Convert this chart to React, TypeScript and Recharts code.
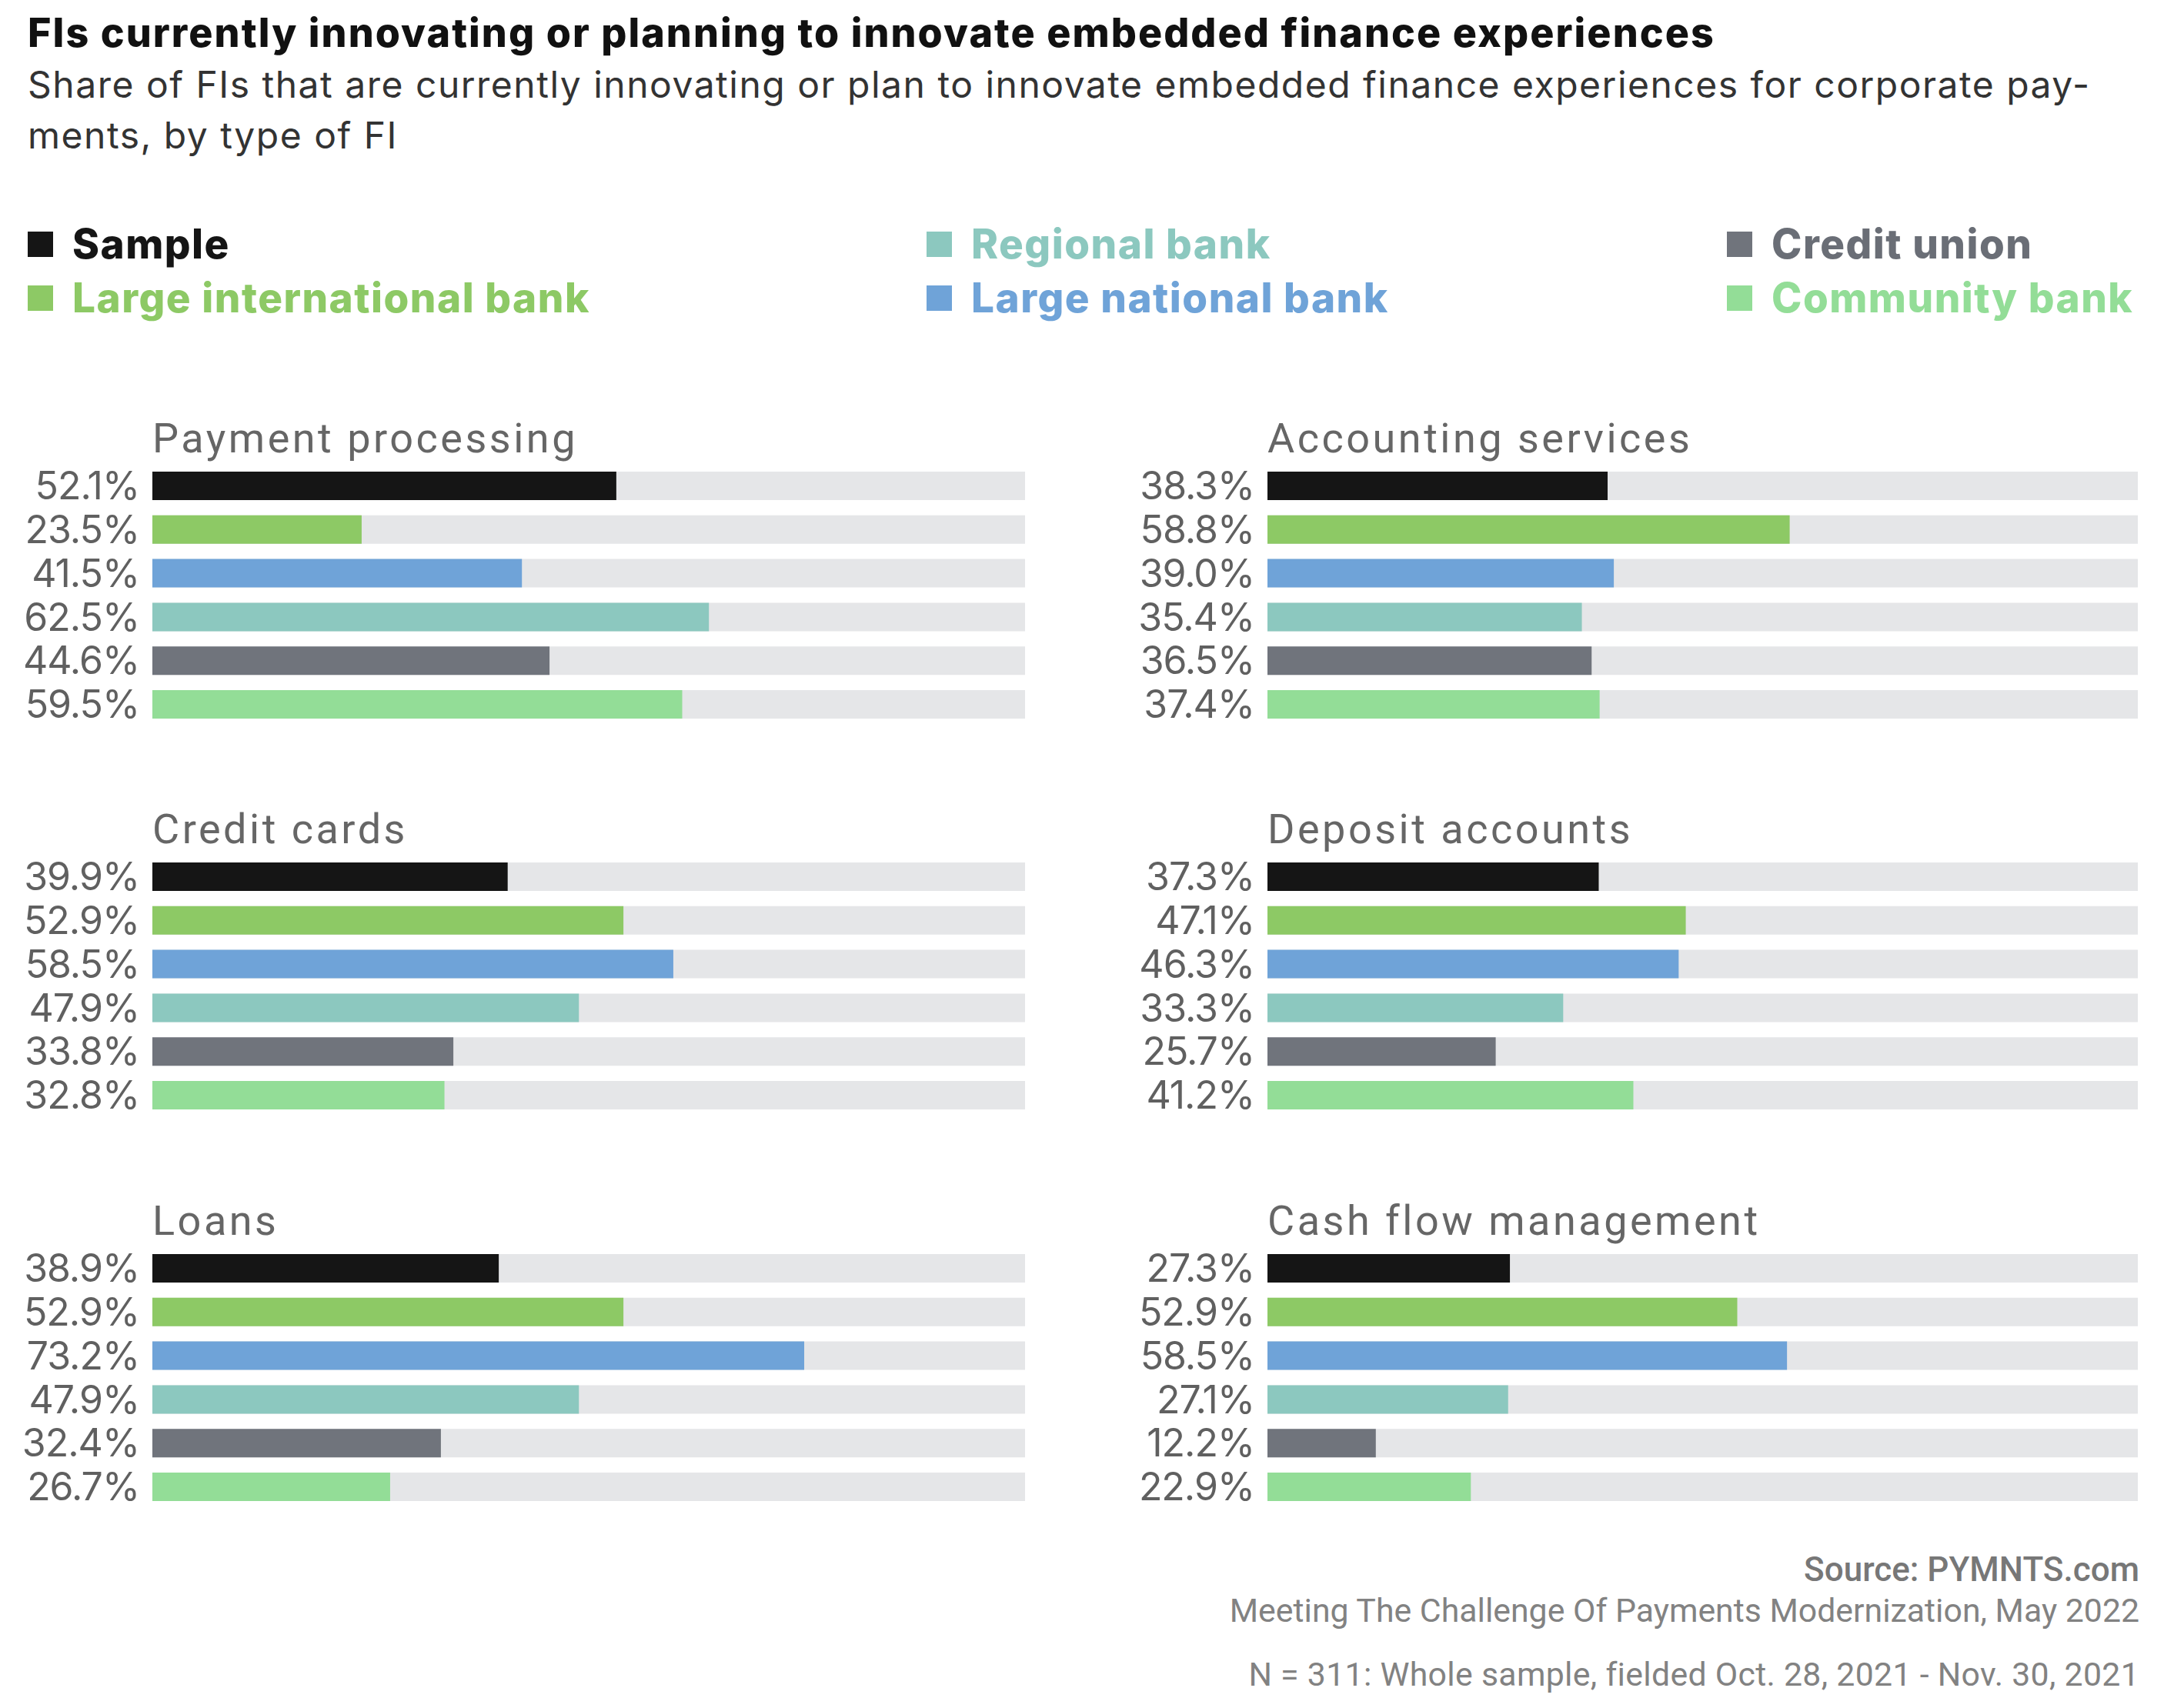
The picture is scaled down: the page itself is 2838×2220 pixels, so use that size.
import React from 'react';
import { BarChart, Bar, XAxis, YAxis, Cell } from 'recharts';

// FI types, in the order bars are drawn inside each panel
const fiTypes = ['Sample', 'Large international bank', 'Large national bank', 'Regional bank', 'Credit union', 'Community bank'];
const fiColors = ['#151515', '#8dc965', '#6fa3d8', '#8cc8bf', '#70747c', '#93dd97'];
const legendTextColors = ['#151515', '#8dc965', '#6fa3d8', '#8cc8bf', '#6a6e76', '#93dd97'];

// share of FIs (%) per use case
const paymentProcessing = [52.1, 23.5, 41.5, 62.5, 44.6, 59.5];
const accountingServices = [38.3, 58.8, 39.0, 35.4, 36.5, 37.4];
const creditCards = [39.9, 52.9, 58.5, 47.9, 33.8, 32.8];
const depositAccounts = [37.3, 47.1, 46.3, 33.3, 25.7, 41.2];
const loans = [38.9, 52.9, 73.2, 47.9, 32.4, 26.7];
const cashFlowManagement = [27.3, 52.9, 58.5, 27.1, 12.2, 22.9];

const panels = [
  { title: 'Payment processing', values: paymentProcessing },
  { title: 'Accounting services', values: accountingServices },
  { title: 'Credit cards', values: creditCards },
  { title: 'Deposit accounts', values: depositAccounts },
  { title: 'Loans', values: loans },
  { title: 'Cash flow management', values: cashFlowManagement },
];

// legend grid: row 1 then row 2, three columns
const legendRows = [[0, 3, 4], [1, 2, 5]];

const ROW_H = 56.8;
const PAD = 14; // room above/below so the tick text isn't clipped by the svg
const CHART_H = ROW_H * 6 + PAD * 2;
const panelTops = [603, 1111, 1620];
const colLefts = [0, 1449];
const chartWidths = [1332, 1329];

interface PanelProps {
  title: string;
  values: number[];
  left: number;
  top: number;
  width: number;
}

const Panel: React.FC<PanelProps> = ({ title, values, left, top, width }) => {
  const data = fiTypes.map((fi, i) => ({ fi, value: values[i] }));
  return (
    <>
      <div
        style={{
          position: 'absolute',
          left: left + 198,
          top: top - 33 - 35,
          fontFamily: 'Roboto',
          fontSize: 54,
          lineHeight: '70px',
          letterSpacing: 3.5,
          color: '#666',
          whiteSpace: 'nowrap',
        }}
      >
        {title}
      </div>
      <div style={{ position: 'absolute', left, top: top - PAD }}>
        <BarChart
          width={width}
          height={CHART_H}
          data={data}
          layout="vertical"
          margin={{ top: PAD, right: 0, bottom: PAD, left: 0 }}
        >
          <XAxis type="number" domain={[0, 98]} hide />
          <YAxis
            type="category"
            dataKey="fi"
            width={198}
            axisLine={false}
            tickLine={false}
            tickSize={0}
            tickMargin={17}
            interval={0}
            tickFormatter={(_v: string, i: number) => `${values[i].toFixed(1)}%`}
            tick={{ fontSize: 50, fill: '#606060', fontFamily: 'Inter', letterSpacing: -1 }}
          />
          <Bar dataKey="value" barSize={37} background={{ fill: '#e5e6e8' }} isAnimationActive={false}>
            {data.map((d, i) => (
              <Cell key={d.fi} fill={fiColors[i]} />
            ))}
          </Bar>
        </BarChart>
      </div>
    </>
  );
};

const App: React.FC = () => {
  return (
    <div
      style={{
        position: 'absolute',
        left: 0,
        top: 0,
        width: 2838,
        height: 2220,
        background: '#fff',
        overflow: 'hidden',
      }}
    >
      <div
        style={{
          position: 'absolute',
          left: 36,
          top: 11,
          fontFamily: 'Inter',
          fontWeight: 800,
          fontSize: 52,
          letterSpacing: 2.05,
          lineHeight: '64px',
          color: '#111',
          whiteSpace: 'nowrap',
        }}
      >
        FIs currently innovating or planning to innovate embedded finance experiences
      </div>
      <div
        style={{
          position: 'absolute',
          left: 36,
          top: 77,
          fontFamily: 'Inter',
          fontSize: 48,
          letterSpacing: 1.5,
          lineHeight: '66px',
          color: '#333',
          whiteSpace: 'nowrap',
        }}
      >
        Share of FIs that are currently innovating or plan to innovate embedded finance experiences for corporate pay-
        <br />
        ments, by type of FI
      </div>

      {legendRows.map((row, r) =>
        row.map((idx, c) => (
          <div
            key={fiTypes[idx]}
            style={{
              position: 'absolute',
              left: [36, 1204, 2244][c],
              top: [317, 387][r] - 30,
              height: 60,
              display: 'flex',
              alignItems: 'center',
              whiteSpace: 'nowrap',
            }}
          >
            <div style={{ width: 33, height: 33, background: fiColors[idx], marginRight: 25 }} />
            <span
              style={{
                fontFamily: 'Inter',
                fontWeight: 800,
                fontSize: 53,
                letterSpacing: 1.5,
                color: legendTextColors[idx],
              }}
            >
              {fiTypes[idx]}
            </span>
          </div>
        ))
      )}

      {panels.map((p, i) => (
        <Panel
          key={p.title}
          title={p.title}
          values={p.values}
          left={colLefts[i % 2]}
          top={panelTops[Math.floor(i / 2)]}
          width={chartWidths[i % 2]}
        />
      ))}

      <div
        style={{
          position: 'absolute',
          right: 58,
          top: 2015,
          textAlign: 'right',
          fontFamily: 'Roboto',
          color: '#828282',
          fontSize: 42.8,
          whiteSpace: 'nowrap',
        }}
      >
        <div style={{ fontWeight: 500, lineHeight: '50px', color: '#777', fontSize: 44 }}>Source: PYMNTS.com</div>
        <div style={{ lineHeight: '56px' }}>Meeting The Challenge Of Payments Modernization, May 2022</div>
        <div style={{ lineHeight: '56px', marginTop: 27, letterSpacing: 0.3 }}>
          N = 311: Whole sample, fielded Oct. 28, 2021 - Nov. 30, 2021
        </div>
      </div>
    </div>
  );
};

export default App;
